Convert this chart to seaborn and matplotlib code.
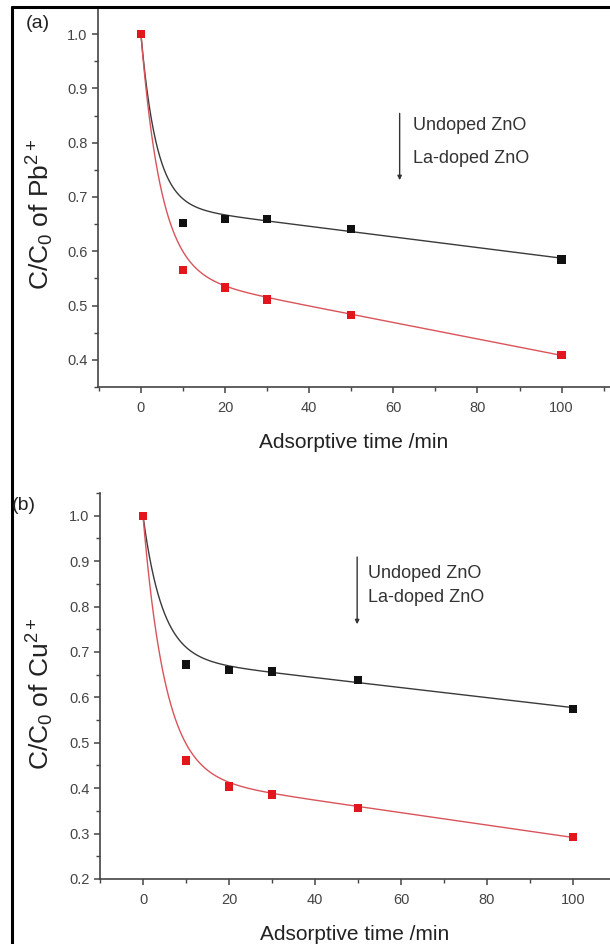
import numpy as np
import pandas as pd
import matplotlib
matplotlib.use('Agg')
import matplotlib.pyplot as plt
from matplotlib.lines import Line2D
from matplotlib.ticker import MultipleLocator, FormatStrFormatter
import seaborn as sns

# adsorption time (min)
time_min = [0, 10, 20, 30, 50, 100]

# C/C0 of Pb2+
pb_undoped = [1.0, 0.652, 0.659, 0.660, 0.641, 0.585]
pb_la_doped = [1.0, 0.565, 0.533, 0.511, 0.483, 0.409]

# C/C0 of Cu2+
cu_undoped = [1.0, 0.672, 0.660, 0.657, 0.638, 0.575]
cu_la_doped = [1.0, 0.461, 0.404, 0.386, 0.356, 0.293]

series_names = ["Undoped ZnO", "La-doped ZnO"]
marker_colors = {"Undoped ZnO": "#111111", "La-doped ZnO": "#e3161d"}
line_colors = {"Undoped ZnO": "#3a3a3a", "La-doped ZnO": "#d9545a"}

# fit: y = a + c*t (slow part, from points t >= 20) + (y0 - a)*exp(-t/tau)
fit_tau = {"Pb": [3.7, 4.8], "Cu": [4.5, 5.2]}
tail_start = 20


def fit_curve(t, y, tau, t_fine):
    t = np.asarray(t, float)
    y = np.asarray(y, float)
    tail = t >= tail_start
    c, a = np.polyfit(t[tail], y[tail], 1)
    b = y[0] - a
    return a + c * t_fine + b * np.exp(-t_fine / tau)


def make_frames(undoped, doped, taus):
    pts = pd.DataFrame({
        "time": time_min * 2,
        "value": list(undoped) + list(doped),
        "sample": [series_names[0]] * len(time_min) + [series_names[1]] * len(time_min),
    })
    t_fine = np.linspace(0, 100, 400)
    curves = []
    for name, vals, tau in zip(series_names, [undoped, doped], taus):
        curves.append(pd.DataFrame({"time": t_fine,
                                    "value": fit_curve(time_min, vals, tau, t_fine),
                                    "sample": name}))
    return pts, pd.concat(curves, ignore_index=True)


sns.set_theme(style="ticks")
plt.rcParams['font.family'] = ['Liberation Sans', 'DejaVu Sans']
plt.rcParams['mathtext.fontset'] = 'custom'
plt.rcParams['mathtext.rm'] = 'Liberation Sans'
plt.rcParams['mathtext.it'] = 'Liberation Sans'

fig = plt.figure(figsize=(6.1, 9.44), dpi=100)
W, H = 610, 944


def px_axes(left, top, right, bottom):
    return fig.add_axes([left / W, 1 - bottom / H, (right - left) / W, (bottom - top) / H])


panels = [
    dict(box=(98, 7, 610, 387), undoped=pb_undoped, doped=pb_la_doped,
         ylim=(0.35, 1.05), xlim=(-10.2, 111.5), ion="Pb", label_y=214, xlabel_y=443,
         arrow_x=61.5, arrow_y=(0.854, 0.731), text_x=64.6, text_y=(0.831, 0.770),
         tag="(a)", tag_xy=(38, 23)),
    dict(box=(100, 493, 610, 879), undoped=cu_undoped, doped=cu_la_doped,
         ylim=(0.2, 1.05), xlim=(-10, 108.6), ion="Cu", label_y=694, xlabel_y=934,
         arrow_x=49.8, arrow_y=(0.909, 0.761), text_x=52.3, text_y=(0.872, 0.820),
         tag="(b)", tag_xy=(24, 506)),
]

for p in panels:
    left, top, right, bottom = p["box"]
    ax = px_axes(left, top, right, bottom)
    pts, curves = make_frames(p["undoped"], p["doped"], fit_tau[p["ion"]])
    sns.lineplot(data=curves, x="time", y="value", hue="sample", palette=line_colors,
                 linewidth=1.0, legend=False, ax=ax)
    sns.scatterplot(data=pts, x="time", y="value", hue="sample", palette=marker_colors,
                    marker="s", s=36, linewidth=0, legend=False, ax=ax, zorder=3)
    ax.set_xlim(*p["xlim"])
    ax.set_ylim(*p["ylim"])
    ax.xaxis.set_major_locator(MultipleLocator(20))
    ax.xaxis.set_minor_locator(MultipleLocator(10))
    ax.yaxis.set_major_locator(MultipleLocator(0.1))
    ax.yaxis.set_minor_locator(MultipleLocator(0.05))
    ax.yaxis.set_major_formatter(FormatStrFormatter('%.1f'))
    ax.tick_params(which='major', direction='out', length=4, width=1.1,
                   colors='#444444', labelsize=10.5, labelcolor='#444444')
    ax.tick_params(axis='x', which='major', pad=6)
    ax.tick_params(which='minor', direction='out', length=3, width=1.0, colors='#444444')
    for side in ['top', 'right']:
        ax.spines[side].set_visible(False)
    for side in ['left', 'bottom']:
        ax.spines[side].set_color('#444444')
        ax.spines[side].set_linewidth(1.2)
    ax.set_xlabel("Adsorptive time /min", fontsize=15, color='#222222')
    ax.xaxis.set_label_coords(0.5, -(p["xlabel_y"] - bottom) / (bottom - top))
    ax.xaxis.label.set_va('center')
    ax.set_ylabel(r"C/C$_0$ of " + p["ion"] + r"$^{2+}$", fontsize=19, color='#222222')
    ax.yaxis.set_label_coords((56 - left) / (right - left),
                              (bottom - p["label_y"]) / (bottom - top))
    ax.annotate("", xy=(p["arrow_x"], p["arrow_y"][1]), xytext=(p["arrow_x"], p["arrow_y"][0]),
                arrowprops=dict(arrowstyle='-|>', color='#333333', lw=1.0,
                                mutation_scale=6, shrinkA=0, shrinkB=0))
    for name, ty in zip(series_names, p["text_y"]):
        ax.text(p["text_x"], ty, name, fontsize=13, color='#333333', va='center', ha='left')
    fig.text(p["tag_xy"][0] / W, 1 - p["tag_xy"][1] / H, p["tag"], fontsize=14,
             color='#222222', ha='center', va='center')

# the black frame of the original image (top and left edges)
fig.add_artist(Line2D([12.5 / W, 1], [1 - 6.5 / H, 1 - 6.5 / H], color='black', lw=2.2,
                      transform=fig.transFigure))
fig.add_artist(Line2D([12.5 / W, 12.5 / W], [0, 1 - 6.5 / H], color='black', lw=2.2,
                      transform=fig.transFigure))

fig.savefig("out.png", dpi=100)
